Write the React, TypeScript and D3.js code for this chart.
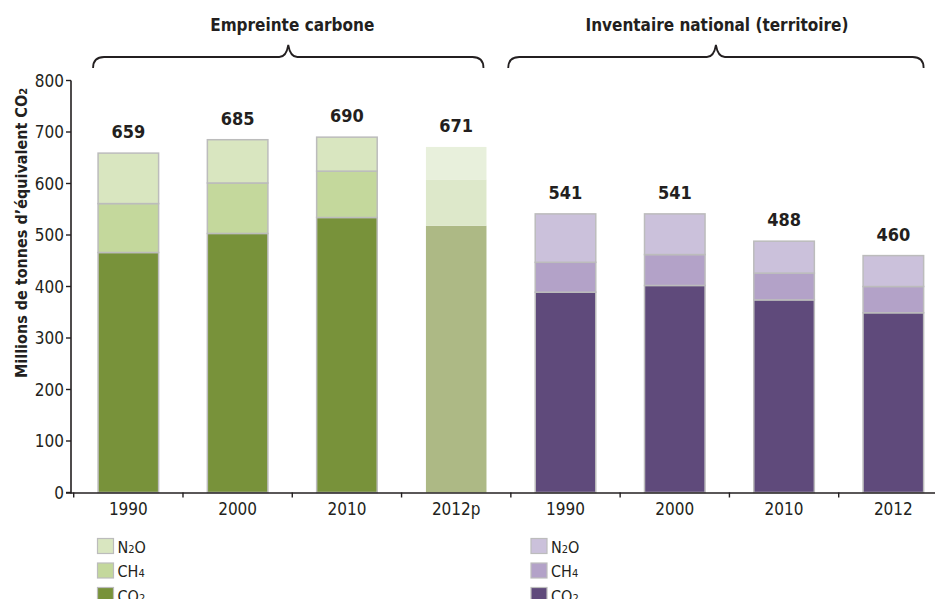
import React from "react";
import * as d3 from "d3";

// Groups and categories
const groups = ["Empreinte carbone", "Inventaire national (territoire)"];
const categoryIds = ["ec-1990", "ec-2000", "ec-2010", "ec-2012p", "in-1990", "in-2000", "in-2010", "in-2012"];
const categoryLabels = ["1990", "2000", "2010", "2012p", "1990", "2000", "2010", "2012"];
const categoryGroup = [0, 0, 0, 0, 1, 1, 1, 1];

// Millions of tonnes CO2 equivalent, per gas
const co2Values = [466, 503, 534, 518, 389, 402, 374, 349];
const ch4Values = [95, 98, 90, 90, 58, 60, 52, 51];
const totalValues = [659, 685, 690, 671, 541, 541, 488, 460];
const n2oValues = totalValues.map((t, i) => t - co2Values[i] - ch4Values[i]);

const yTicks = [0, 100, 200, 300, 400, 500, 600, 700, 800];
const gasKeys = ["CO2", "CH4", "N2O"];

const palettes = [
  { CO2: "#78923a", CH4: "#c4d89c", N2O: "#d9e6c0" },
  { CO2: "#5f4a7b", CH4: "#b3a2c8", N2O: "#cbc1db" },
];
const provisional = { CO2: "#adb985", CH4: "#dde8ca", N2O: "#e8f0dc" };

const FONT = "'Liberation Sans Narrow', 'DejaVu Sans Condensed', 'Open Sans', sans-serif";
const INK = "#231f20";

const rows = categoryIds.map((id, i) => ({
  id,
  CO2: co2Values[i],
  CH4: ch4Values[i],
  N2O: n2oValues[i],
}));

function GasName({ k }: { k: string }) {
  const parts = k === "CO2" ? ["CO", "2", ""] : k === "CH4" ? ["CH", "4", ""] : ["N", "2", "O"];
  return (
    <>
      {parts[0]}
      <tspan fontSize="11">{parts[1]}</tspan>
      {parts[2]}
    </>
  );
}

export default function App() {
  const W = 935;
  const H = 599;
  const y = d3.scaleLinear().domain([0, 800]).range([492.5, 80.5]);
  const x = d3
    .scaleBand<string>()
    .domain(categoryIds)
    .range([73.7, 948])
    .paddingInner(0.446)
    .paddingOuter(0.223);
  const bw = x.bandwidth();
  const step = x.step();
  const series = d3.stack<any>().keys(gasKeys)(rows);

  const boundaries = categoryIds.map((id) => (x(id) as number) - (step - bw) / 2);

  const braceSpans = [
    { x0: (x(categoryIds[0]) as number) - 5, x1: (x(categoryIds[3]) as number) + bw - 3 },
    { x0: (x(categoryIds[4]) as number) - 27, x1: (x(categoryIds[7]) as number) + bw },
  ];

  const bracePath = (x0: number, x1: number) => {
    const mid = (x0 + x1) / 2;
    const yl = 57;
    const r = 11;
    return `M${x0},68 Q${x0},${yl} ${x0 + r},${yl} L${mid - 9},${yl} Q${mid - 2},${yl} ${mid},45 Q${mid + 2},${yl} ${mid + 9},${yl} L${x1 - r},${yl} Q${x1},${yl} ${x1},68`;
  };

  return (
    <svg
      width={W}
      height={H}
      style={{ position: "absolute", left: 0, top: 0, background: "#fff" }}
      fontFamily={FONT}
    >
      {/* group braces and titles */}
      {braceSpans.map((b, gi) => (
        <g key={gi}>
          <path d={bracePath(b.x0, b.x1)} fill="none" stroke={INK} strokeWidth={1.8} />
          <text
            x={(b.x0 + b.x1) / 2 + (gi === 0 ? 4 : 1)}
            y={31}
            textAnchor="middle"
            fontSize={17}
            fontWeight={700}
            fill={INK}
          >
            {groups[gi]}
          </text>
        </g>
      ))}

      {/* stacked bars */}
      {series.map((s) =>
        s.map((d, i) => {
          const key = s.key as "CO2" | "CH4" | "N2O";
          const isProv = categoryLabels[i].endsWith("p");
          const fill = isProv ? provisional[key] : palettes[categoryGroup[i]][key];
          return (
            <rect
              key={s.key + i}
              x={x(categoryIds[i])}
              y={y(d[1])}
              width={bw}
              height={y(d[0]) - y(d[1])}
              fill={fill}
              stroke={isProv ? "none" : "#bcbcbc"}
              strokeWidth={1.5}
            />
          );
        })
      )}

      {/* totals */}
      {totalValues.map((t, i) => (
        <text
          key={"t" + i}
          x={(x(categoryIds[i]) as number) + bw / 2}
          y={y(t) - 15}
          textAnchor="middle"
          fontSize={18}
          fontWeight={700}
          fill={INK}
        >
          {t}
        </text>
      ))}

      {/* y axis */}
      <line x1={71} x2={71} y1={y(800)} y2={y(0) + 1} stroke={INK} strokeWidth={1.6} />
      {yTicks.map((v) => (
        <g key={v}>
          <line x1={66} x2={71} y1={y(v)} y2={y(v)} stroke={INK} strokeWidth={1.4} />
          <text x={64} y={y(v) + 6} textAnchor="end" fontSize={17} fill={INK}>
            {v}
          </text>
        </g>
      ))}
      <text
        transform={`translate(27,${233}) rotate(-90)`}
        textAnchor="middle"
        fontSize={16}
        fontWeight={700}
        fill={INK}
      >
        Millions de tonnes d’équivalent CO
        <tspan fontSize="11">2</tspan>
      </text>

      {/* x axis */}
      <line x1={66} x2={W} y1={y(0) + 0.5} y2={y(0) + 0.5} stroke={INK} strokeWidth={1.6} />
      {boundaries.map((bx, i) => (
        <line key={"b" + i} x1={bx} x2={bx} y1={y(0)} y2={y(0) + 5} stroke={INK} strokeWidth={1.4} />
      ))}
      {categoryLabels.map((c, i) => (
        <text
          key={"c" + i}
          x={(x(categoryIds[i]) as number) + bw / 2}
          y={515}
          textAnchor="middle"
          fontSize={17}
          fill={INK}
        >
          {c}
        </text>
      ))}

      {/* legends */}
      {[0, 1].map((gi) => {
        const lx = gi === 0 ? 97.5 : 531;
        return (
          <g key={"lg" + gi}>
            {["N2O", "CH4", "CO2"].map((k, r) => (
              <g key={k} transform={`translate(${lx},${538.5 + r * 24.5})`}>
                <rect
                  width={16}
                  height={15}
                  fill={(palettes[gi] as any)[k]}
                  stroke="#bcbcbc"
                  strokeWidth={1.2}
                />
                <text x={20} y={14} fontSize={16} fill={INK}>
                  <GasName k={k} />
                </text>
              </g>
            ))}
          </g>
        );
      })}
    </svg>
  );
}
